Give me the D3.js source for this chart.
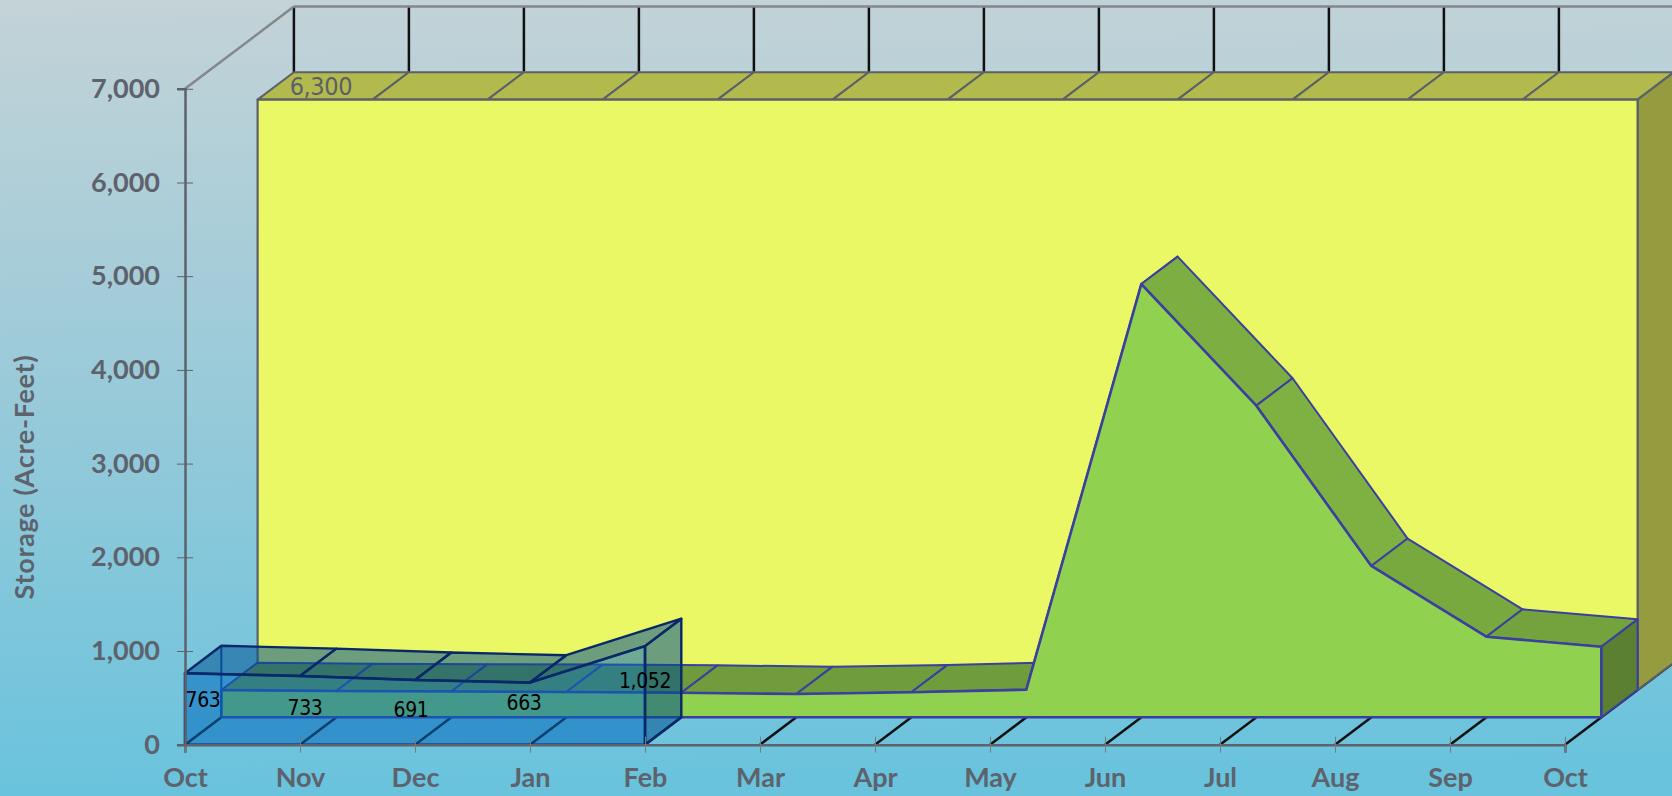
<!doctype html>
<html>
  <head>
    <meta charset="utf-8">
    <title>Storage 3D area</title>
    <style>
      html, body { margin: 0; padding: 0; overflow: hidden; }
      svg { display: block; }
      .axis text { font-family: Lato; font-weight: bold; font-size: 27px; fill: #5d626c; }
      .axis-title { font-family: Lato; font-weight: bold; font-size: 27px; letter-spacing: 0.7px; fill: #5d626c; }
      .value { font-family: "DejaVu Sans Condensed", "DejaVu Sans"; font-size: 21px; letter-spacing: -0.4px; }
    </style>
  </head>
  <body>
    <svg id="chart" width="1672" height="796"></svg>

<script src="https://cdn.jsdelivr.net/npm/d3@7"></script>

<script>
var months = ['Oct', 'Nov', 'Dec', 'Jan', 'Feb', 'Mar', 'Apr', 'May', 'Jun', 'Jul', 'Aug', 'Sep', 'Oct'];
var yTicks = [0, 1000, 2000, 3000, 4000, 5000, 6000, 7000];

// one series per depth layer, front to back
var current = [763, 733, 691, 663, 1052];
var average = [291, 280, 275, 270, 262, 248, 267, 295, 4624, 3326, 1615, 860, 753];
var capacity = [6300, 6300, 6300, 6300, 6300, 6300, 6300, 6300, 6300, 6300, 6300, 6300, 6300];

var svg = d3.select('#chart');

var x = d3.scaleLinear().domain([0, 12]).range([185, 1565]);
var y = d3.scaleLinear().domain([0, 7000]).range([744.7, 88.8]);

// depth of one layer on screen
var depthX = 36.3;
var depthY = -27.4;
var px = function(i, layer) { return x(i) + layer * depthX; };
var py = function(v, layer) { return y(v) + layer * depthY; };

var defs = svg.append('defs');
var bg = defs.append('linearGradient').attr('id', 'bg').attr('x1', 0).attr('y1', 0).attr('x2', 0.04).attr('y2', 1);
bg.append('stop').attr('offset', 0).attr('stop-color', '#c4d3d7');
bg.append('stop').attr('offset', 0.5).attr('stop-color', '#98cad9');
bg.append('stop').attr('offset', 1).attr('stop-color', '#69c3dd');
svg.append('rect').attr('width', 1672).attr('height', 796).attr('fill', 'url(#bg)');

var poly = function(pts) { return pts.map(function(p) { return p.join(','); }).join(' '); };
var addPoly = function(g, pts, fill, stroke, width, opacity) {
  return g.append('polygon').attr('points', poly(pts)).attr('fill', fill)
    .attr('fill-opacity', opacity === undefined ? 1 : opacity)
    .attr('stroke', stroke).attr('stroke-width', width).attr('stroke-linejoin', 'round');
};
var addLine = function(g, x1, y1, x2, y2, stroke, width) {
  return g.append('line').attr('x1', x1).attr('y1', y1).attr('x2', x2).attr('y2', y2)
    .attr('stroke', stroke).attr('stroke-width', width);
};

// walls and floor
var walls = svg.append('g');
months.forEach(function(m, i) {
  addLine(walls, px(i, 3), py(7000, 3), px(i, 3), py(0, 3), '#111', 2.5);
  addLine(walls, px(i, 0), py(0, 0), px(i, 3), py(0, 3), '#111', 2.5);
});
addLine(walls, px(0, 3), py(7000, 3), px(12, 3), py(7000, 3), '#82878c', 2.5);
addLine(walls, px(0, 0), py(7000, 0), px(0, 3), py(7000, 3), '#82878c', 2.5);

function drawLayer(values, layer, o) {
  var g = svg.append('g');
  var last = values.length - 1;
  // top faces first, the front face hides the ones that lean back
  d3.range(last).forEach(function(i) {
    addPoly(g, [
      [px(i, layer), py(values[i], layer)],
      [px(i + 1, layer), py(values[i + 1], layer)],
      [px(i + 1, layer + 1), py(values[i + 1], layer + 1)],
      [px(i, layer + 1), py(values[i], layer + 1)]
    ], o.topFill(values[i + 1] - values[i]), o.stroke, o.thin, o.opacity);
  });
  // right end
  addPoly(g, [
    [px(last, layer), py(values[last], layer)],
    [px(last, layer + 1), py(values[last], layer + 1)],
    [px(last, layer + 1), py(0, layer + 1)],
    [px(last, layer), py(0, layer)]
  ], o.side, o.stroke, o.thin, o.opacity);
  var front = values.map(function(v, i) { return [px(i, layer), py(v, layer)]; });
  front.push([px(last, layer), py(0, layer)], [px(0, layer), py(0, layer)]);
  addPoly(g, front, o.front, o.stroke, o.thick, o.opacity);
}

drawLayer(capacity, 2, {
  topFill: function() { return '#b3ba4d'; },
  side: '#959b3f', front: '#ebf866', stroke: '#5c6068', thin: 2, thick: 2.2
});

var greenTop = d3.scaleLinear().domain([0, 100, 1000]).range(['#6f9b3b', '#74a33d', '#7aab40']);
drawLayer(average, 1, {
  topFill: function(d) { return greenTop(Math.abs(d)); },
  side: '#5c8032', front: '#90d24f', stroke: '#3a3fa0', thin: 2, thick: 2.6
});

// back edge of the see-through box
addLine(svg, px(0, 1), py(current[0], 1), px(0, 1), py(0, 1), '#12479c', 2);

drawLayer(current, 0, {
  topFill: function() { return '#005192'; },
  side: '#004f8f', front: '#0068bc', stroke: '#0a2868', thin: 2.4, thick: 2.6, opacity: 0.54
});

// axes
var xAxis = d3.axisBottom(x).tickValues(d3.range(months.length))
  .tickFormat(function(i) { return months[i]; }).tickSize(8).tickPadding(15);
var gx = svg.append('g').attr('class', 'axis').attr('transform', 'translate(0,' + y(0) + ')').call(xAxis);
gx.select('.domain').attr('stroke', '#5d626b').attr('stroke-width', 2.5);
gx.selectAll('.tick line').attr('y1', -8).attr('stroke', '#747a80');

var yAxis = d3.axisLeft(y).tickValues(yTicks).tickFormat(d3.format(',')).tickSize(8).tickPadding(17);
var gy = svg.append('g').attr('class', 'axis').attr('transform', 'translate(' + x(0) + ',0)').call(yAxis);
gy.select('.domain').attr('stroke', '#5d626b').attr('stroke-width', 2.5);
gy.selectAll('.tick line').attr('x2', 8).attr('x1', -8).attr('stroke', '#5d626b');

svg.append('text').attr('class', 'axis-title')
  .attr('transform', 'translate(23,477) rotate(-90)')
  .attr('text-anchor', 'middle').attr('dominant-baseline', 'central')
  .text('Storage (Acre-Feet)');

// value labels, nudged by hand off the crowded edges
var labelDx = [18, 5, -4, -6, 0];
var labelDy = [9, 2, 2, 11, 14];
svg.selectAll('.value').data(current).enter().append('text')
  .attr('class', 'value').attr('fill', '#000').attr('text-anchor', 'middle')
  .attr('dominant-baseline', 'central')
  .attr('x', function(d, i) { return x(i) + labelDx[i]; })
  .attr('y', function(d, i) { return y(d / 2) - labelDy[i]; })
  .text(d3.format(','));

svg.append('text').attr('class', 'value').attr('fill', '#5a5f69')
  .attr('x', px(0, 3) + 27).attr('y', py(capacity[0], 3) + 14)
  .attr('text-anchor', 'middle').attr('dominant-baseline', 'central')
  .style('font-size', '25px')
  .text(d3.format(',')(capacity[0]));
</script>
  </body>
</html>
